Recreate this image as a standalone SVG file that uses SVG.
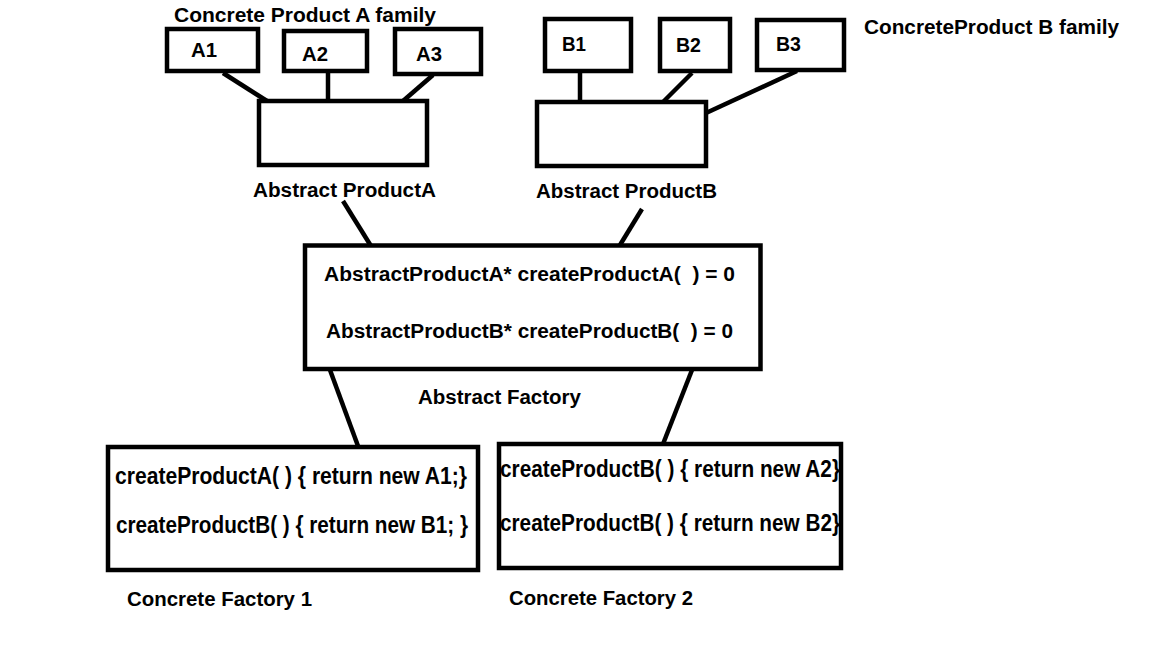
<svg xmlns="http://www.w3.org/2000/svg" width="1152" height="648" viewBox="0 0 1152 648">
<style>
.box{fill:#fff;stroke:#000;stroke-width:4.5}
.ln{stroke:#000;stroke-width:4.5;fill:none}
text{font-family:"Liberation Sans",Arial,sans-serif;font-weight:bold;fill:#000;white-space:pre}
.m{font-size:20px}
.c{font-size:23px}
</style>
<rect width="1152" height="648" fill="#fff"/>
<g id="connectors">
<line class="ln" x1="223" y1="73" x2="267" y2="101"/>
<line class="ln" x1="328" y1="72" x2="328" y2="101"/>
<line class="ln" x1="433" y1="75" x2="403" y2="101"/>
<line class="ln" x1="580" y1="71" x2="580" y2="102"/>
<line class="ln" x1="692" y1="73" x2="663" y2="102"/>
<line class="ln" x1="797" y1="71" x2="706" y2="113"/>
<line class="ln" x1="343" y1="201" x2="371" y2="246"/>
<line class="ln" x1="642" y1="209" x2="620" y2="245"/>
<line class="ln" x1="330" y1="370" x2="358" y2="446"/>
<line class="ln" x1="692" y1="370" x2="663" y2="444"/>
</g>
<g id="label-concrete-a"><text class="m" x="174" y="22" textLength="262" lengthAdjust="spacingAndGlyphs">Concrete Product A family</text></g>
<g id="node-a1"><rect class="box" x="167" y="29" width="91" height="42"/><text class="m" x="191" y="57" textLength="26" lengthAdjust="spacingAndGlyphs">A1</text></g>
<g id="node-a2"><rect class="box" x="284" y="31" width="83" height="40"/><text class="m" x="302" y="61" textLength="26" lengthAdjust="spacingAndGlyphs">A2</text></g>
<g id="node-a3"><rect class="box" x="395" y="29" width="86" height="45"/><text class="m" x="416" y="61" textLength="26" lengthAdjust="spacingAndGlyphs">A3</text></g>
<g id="node-abstract-a"><rect class="box" x="259" y="101" width="168" height="64"/><text class="m" x="253" y="197" textLength="183" lengthAdjust="spacingAndGlyphs">Abstract ProductA</text></g>
<g id="label-concrete-b"><text class="m" x="864" y="34" textLength="255" lengthAdjust="spacingAndGlyphs">ConcreteProduct B family</text></g>
<g id="node-b1"><rect class="box" x="545" y="19" width="86" height="52"/><text class="m" x="562" y="51" textLength="24" lengthAdjust="spacingAndGlyphs">B1</text></g>
<g id="node-b2"><rect class="box" x="660" y="19" width="70" height="52"/><text class="m" x="676" y="52" textLength="25" lengthAdjust="spacingAndGlyphs">B2</text></g>
<g id="node-b3"><rect class="box" x="757" y="20" width="87" height="50"/><text class="m" x="776" y="51" textLength="25" lengthAdjust="spacingAndGlyphs">B3</text></g>
<g id="node-abstract-b"><rect class="box" x="537" y="102" width="169" height="64"/><text class="m" x="536" y="198" textLength="181" lengthAdjust="spacingAndGlyphs">Abstract ProductB</text></g>
<g id="node-abstract-factory">
<rect class="box" x="305" y="245.5" width="455.5" height="123.5"/>
<text class="m" x="324" y="281" textLength="411" lengthAdjust="spacingAndGlyphs">AbstractProductA* createProductA(  ) = 0</text>
<text class="m" x="326" y="338" textLength="407" lengthAdjust="spacingAndGlyphs">AbstractProductB* createProductB(  ) = 0</text>
<text class="m" x="418" y="404" textLength="163" lengthAdjust="spacingAndGlyphs">Abstract Factory</text>
</g>
<g id="node-concrete-factory-1">
<rect class="box" x="108" y="447" width="370" height="123"/>
<text class="c" x="115" y="484" textLength="352" lengthAdjust="spacingAndGlyphs">createProductA( ) { return new A1;}</text>
<text class="c" x="116" y="533" textLength="352" lengthAdjust="spacingAndGlyphs">createProductB( ) { return new B1; }</text>
<text class="m" x="127" y="606" textLength="185" lengthAdjust="spacingAndGlyphs">Concrete Factory 1</text>
</g>
<g id="node-concrete-factory-2">
<rect class="box" x="499" y="444" width="342" height="124"/>
<text class="c" x="500" y="477" textLength="340" lengthAdjust="spacingAndGlyphs">createProductB( ) { return new A2}</text>
<text class="c" x="500" y="531" textLength="340" lengthAdjust="spacingAndGlyphs">createProductB( ) { return new B2}</text>
<text class="m" x="509" y="605" textLength="184" lengthAdjust="spacingAndGlyphs">Concrete Factory 2</text>
</g>
</svg>
